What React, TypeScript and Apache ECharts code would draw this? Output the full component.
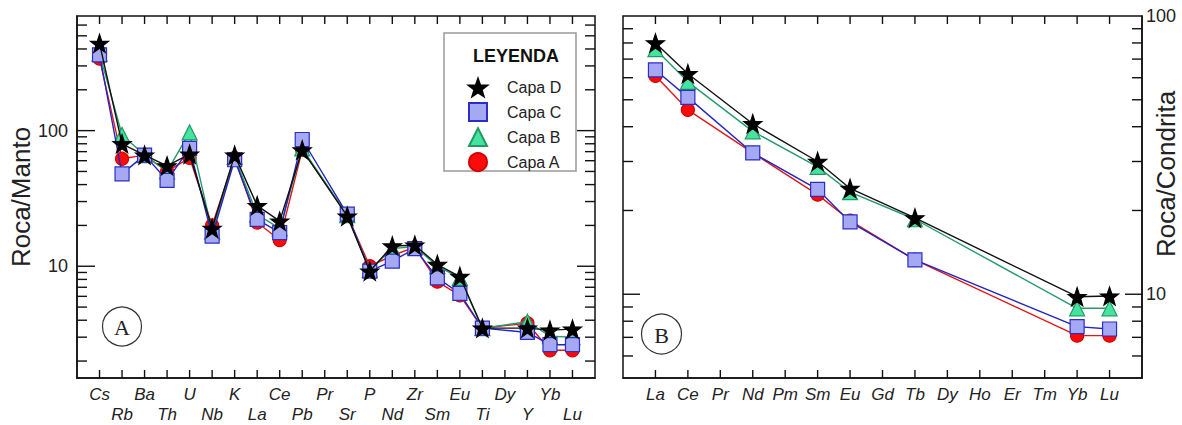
import React, { useEffect, useRef } from "react";
import * as echarts from "echarts";

// ---------- DATA ----------
const leftCats = ["Cs", "Rb", "Ba", "Th", "U", "Nb", "K", "La", "Ce", "Pb", "Pr", "Sr", "P", "Nd", "Zr", "Sm", "Eu", "Ti", "Dy", "Y", "Yb", "Lu"];
const rightCats = ["La", "Ce", "Pr", "Nd", "Pm", "Sm", "Eu", "Gd", "Tb", "Dy", "Ho", "Er", "Tm", "Yb", "Lu"];

const leftD = [440, 80, 66, 55, 67, 19, 66, 28, 21.5, 72, null, 23.4, 9.2, 14.1, 14.3, 10.3, 8.4, 3.5, null, 3.5, 3.38, 3.44];
const leftC = [362, 48, 66, 43, 74, 16.7, 61, 22.2, 17.7, 86, null, 24.2, 9.2, 10.9, 13.5, 8.2, 6.3, 3.5, null, 3.25, 2.64, 2.64];
const leftB = [370, 93, 66, 50, 97, 18, 64, 24, 19, 74, null, 23.8, 9.4, 13.5, 14, 10, 8.2, 3.5, null, 3.9, 3.05, 3.0];
const leftA = [340, 62, 66, 50, 63, 20, 63, 21, 15.6, 72, null, 23.8, 10, 12, 13.8, 7.7, 6.1, 3.5, null, 3.8, 2.4, 2.4];

const rightD = [80, 62, null, 41, null, 30, 24, null, 18.8, null, null, null, null, 9.8, 9.85];
const rightC = [64, 51, null, 32.2, null, 23.8, 18.2, null, 13.3, null, null, null, null, 7.65, 7.5];
const rightB = [76, 58, null, 38.5, null, 28.7, 23.3, null, 18.6, null, null, null, null, 8.9, 8.9];
const rightA = [61, 46, null, 32.2, null, 22.8, 18.4, null, 13.3, null, null, null, null, 7.1, 7.1];

const leftYMin = 1.5;
const leftYMax = 700;
const rightYMin = 5;
const rightYMax = 100;
const leftMajorTicks = [10, 100];
const leftMinorTicks = [2, 3, 4, 5, 6, 7, 8, 9, 20, 30, 40, 50, 60, 70, 80, 90, 200, 300, 400, 500, 600];
const rightMajorTicks = [10];
const rightMinorTicks = [6, 7, 8, 9, 20, 30, 40, 50, 60, 70, 80, 90];

const seriesNames = ["Capa A", "Capa B", "Capa C", "Capa D"];

// ---------- STYLE ----------
const STAR = "path://M0,-10L2.35,-3.24L9.51,-3.09L3.8,1.24L5.88,8.09L0,4.1L-5.88,8.09L-3.8,1.24L-9.51,-3.09L-2.35,-3.24Z";
const styles: Record<string, any> = {
  "Capa A": { symbol: "circle", size: 13, fill: "#ff0a0a", border: "#d40000", line: "#e01818" },
  "Capa B": { symbol: "triangle", size: 15, fill: "#45e3a0", border: "#1e9a62", line: "#259a6a" },
  "Capa C": { symbol: "rect", size: 14, fill: "#a5a8f3", border: "#2a2ec4", line: "#2424c0" },
  "Capa D": { symbol: STAR, size: 18, fill: "#000000", border: "#000000", line: "#111111" },
};

const FONT = "'Liberation Sans', Arial, sans-serif";
const NARROW = "'Liberation Sans Narrow', 'Arial Narrow', 'Liberation Sans', sans-serif";
const AX = "#111";
const TW = 1.4;

function pairs(vals: (number | null)[]) {
  const out: number[][] = [];
  vals.forEach((v, i) => {
    if (v !== null) out.push([i, v]);
  });
  return out;
}

function lineSeries(name: string, vals: (number | null)[], xi: number, yi: number) {
  const s = styles[name];
  return {
    name,
    type: "line",
    xAxisIndex: xi,
    yAxisIndex: yi,
    data: pairs(vals),
    symbol: s.symbol,
    symbolSize: s.size,
    lineStyle: { color: s.line, width: 1.4 },
    itemStyle: { color: s.fill, borderColor: s.border, borderWidth: 1.2 },
    z: 3 + seriesNames.indexOf(name),
  };
}

// y ticks drawn on both the left and right edge of the plot, through the axis scales
function yTickSeries(xi: number, yi: number, values: number[], len: number, nCats: number) {
  return {
    type: "custom",
    xAxisIndex: xi,
    yAxisIndex: yi,
    silent: true,
    clip: false,
    data: values.map((v) => [-1, v]),
    z: 2,
    renderItem: (params: any, api: any) => {
      const v = values[params.dataIndex];
      const pl = api.coord([-1, v]);
      const pr = api.coord([nCats, v]);
      return {
        type: "group",
        children: [
          { type: "rect", shape: { x: pl[0], y: pl[1] - TW / 2, width: len, height: TW }, style: { fill: AX } },
          { type: "rect", shape: { x: pr[0] - len, y: pr[1] - TW / 2, width: len, height: TW }, style: { fill: AX } },
        ],
      };
    },
  };
}

// category ticks on the bottom and top edges: one anchor item, ticks placed through the axis scales
function xTickSeries(xi: number, yi: number, n: number, ymin: number, ymax: number) {
  return {
    type: "custom",
    xAxisIndex: xi,
    yAxisIndex: yi,
    silent: true,
    clip: false,
    data: [[-1, ymax / 2]],
    z: 2,
    renderItem: (params: any, api: any) => {
      const len = 8;
      const children: any[] = [];
      for (let i = 0; i < n; i++) {
        const pb = api.coord([i, ymin]);
        const pt = api.coord([i, ymax]);
        children.push({ type: "rect", shape: { x: pb[0] - TW / 2, y: pb[1] - len, width: TW, height: len }, style: { fill: AX } });
        children.push({ type: "rect", shape: { x: pt[0] - TW / 2, y: pt[1], width: TW, height: len }, style: { fill: AX } });
      }
      return { type: "group", children };
    },
  };
}

function xAxisCfg(gridIndex: number, cats: string[], stagger: boolean) {
  return {
    gridIndex,
    type: "value",
    position: "bottom",
    min: -1,
    max: cats.length,
    interval: 1,
    splitLine: { show: false },
    axisLine: { show: true, onZero: false, lineStyle: { color: AX, width: 1.5 } },
    axisTick: { show: false },
    axisLabel: {
      show: true,
      margin: 6,
      fontFamily: FONT,
      fontStyle: "italic",
      fontSize: 17,
      lineHeight: 20,
      color: "#222",
      showMinLabel: true,
      showMaxLabel: true,
      hideOverlap: false,
      formatter: (v: number) => {
        const i = Math.round(v);
        if (i < 0 || i >= cats.length) return "";
        return stagger && i % 2 === 1 ? "\n" + cats[i] : cats[i];
      },
    },
  };
}

export default function App() {
  const ref = useRef<HTMLDivElement>(null);
  useEffect(() => {
    if (!ref.current) return;
    const chart = echarts.init(ref.current, undefined, { renderer: "svg" });
    const option: any = {
      animation: false,
      backgroundColor: "#fff",
      grid: [
        { left: 77, top: 16, width: 518, height: 362, show: true, borderColor: AX, borderWidth: 1.5, backgroundColor: "transparent" },
        { left: 623, top: 16, width: 519, height: 362, show: true, borderColor: AX, borderWidth: 1.5, backgroundColor: "transparent" },
      ],
      xAxis: [xAxisCfg(0, leftCats, true), xAxisCfg(1, rightCats, false)],
      yAxis: [
        {
          gridIndex: 0,
          type: "log",
          logBase: 10,
          min: leftYMin,
          max: leftYMax,
          position: "left",
          splitLine: { show: false },
          axisLine: { show: true, onZero: false, lineStyle: { color: AX, width: 1.5 } },
          axisTick: { show: false },
          axisLabel: { showMinLabel: false, showMaxLabel: false, margin: 9, fontFamily: FONT, fontSize: 18, color: "#222" },
          name: "Roca/Manto",
          nameLocation: "middle",
          nameRotate: 90,
          nameGap: 38,
          nameTextStyle: { fontFamily: FONT, fontSize: 26, color: "#222" },
        },
        {
          gridIndex: 1,
          type: "log",
          logBase: 10,
          min: rightYMin,
          max: rightYMax,
          position: "right",
          splitLine: { show: false },
          axisLine: { show: true, onZero: false, lineStyle: { color: AX, width: 1.5 } },
          axisTick: { show: false },
          axisLabel: { showMinLabel: false, showMaxLabel: true, margin: 4, fontFamily: FONT, fontSize: 18, color: "#222" },
        },
      ],
      legend: {
        orient: "vertical",
        left: 463,
        top: 73,
        itemWidth: 18,
        itemHeight: 18,
        itemGap: 5,
        selectedMode: false,
        textStyle: { fontFamily: NARROW, fontSize: 16, color: "#222", padding: [0, 0, 0, 15] },
        data: [
          { name: "Capa D", icon: STAR },
          { name: "Capa C", icon: "rect" },
          { name: "Capa B", icon: "triangle" },
          { name: "Capa A", icon: "circle" },
        ],
        z: 10,
      },
      graphic: [
        { type: "rect", shape: { x: 444, y: 33, width: 132, height: 138 }, style: { fill: "#fff", stroke: "#999", lineWidth: 1.5 }, z: 5 },
        { type: "text", x: 516, y: 56, style: { text: "LEYENDA", font: `bold 18px ${NARROW}`, fill: "#111", align: "center", verticalAlign: "middle" }, z: 11 },
        { type: "circle", shape: { cx: 122, cy: 326.5, r: 19.5 }, style: { fill: "#fff", stroke: "#333", lineWidth: 1.2 }, z: 5 },
        { type: "text", x: 122, y: 327, style: { text: "A", font: "22px 'Liberation Serif', 'DejaVu Serif', serif", fill: "#222", align: "center", verticalAlign: "middle" }, z: 6 },
        { type: "circle", shape: { cx: 661.5, cy: 334, r: 20 }, style: { fill: "#fff", stroke: "#333", lineWidth: 1.2 }, z: 5 },
        { type: "text", x: 661.5, y: 335, style: { text: "B", font: "22px 'Liberation Serif', 'DejaVu Serif', serif", fill: "#222", align: "center", verticalAlign: "middle" }, z: 6 },
        { type: "text", x: 1166, y: 174, rotation: Math.PI / 2, style: { text: "Roca/Condrita", font: `26px ${FONT}`, fill: "#222", align: "center", verticalAlign: "middle" }, z: 6 },
      ],
      series: [
        yTickSeries(0, 0, leftMajorTicks, 18, leftCats.length),
        yTickSeries(0, 0, leftMinorTicks, 10, leftCats.length),
        xTickSeries(0, 0, leftCats.length, leftYMin, leftYMax),
        yTickSeries(1, 1, rightMajorTicks, 17, rightCats.length),
        yTickSeries(1, 1, rightMinorTicks, 10, rightCats.length),
        xTickSeries(1, 1, rightCats.length, rightYMin, rightYMax),
        lineSeries("Capa A", leftA, 0, 0),
        lineSeries("Capa B", leftB, 0, 0),
        lineSeries("Capa C", leftC, 0, 0),
        lineSeries("Capa D", leftD, 0, 0),
        lineSeries("Capa A", rightA, 1, 1),
        lineSeries("Capa B", rightB, 1, 1),
        lineSeries("Capa C", rightC, 1, 1),
        lineSeries("Capa D", rightD, 1, 1),
      ],
    };
    chart.setOption(option);
    return () => chart.dispose();
  }, []);
  return <div ref={ref} style={{ position: "fixed", left: 0, top: 0, width: 1182, height: 425 }} />;
}
